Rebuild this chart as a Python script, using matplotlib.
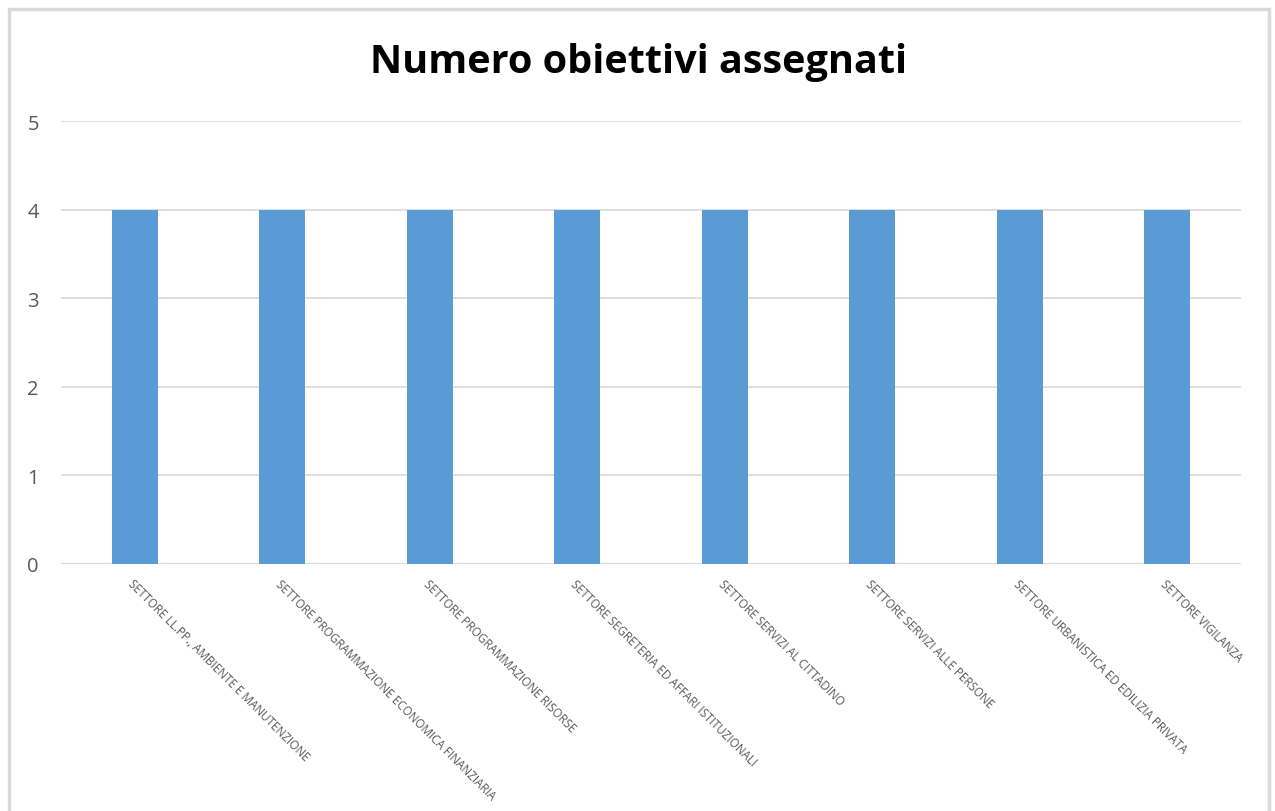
import matplotlib.pyplot as plt
from matplotlib.patches import Rectangle

settori = [
    'SETTORE LL.PP., AMBIENTE E MANUTENZIONE',
    'SETTORE PROGRAMMAZIONE ECONOMICA FINANZIARIA',
    'SETTORE PROGRAMMAZIONE RISORSE',
    'SETTORE SEGRETERIA ED AFFARI ISTITUZIONALI',
    'SETTORE SERVIZI AL CITTADINO',
    'SETTORE SERVIZI ALLE PERSONE',
    'SETTORE URBANISTICA ED EDILIZIA PRIVATA',
    'SETTORE VIGILANZA',
]
obiettivi = [4, 4, 4, 4, 4, 4, 4, 4]
y_ticks = [0, 1, 2, 3, 4, 5]

W, H = 1275, 812
fig = plt.figure(figsize=(W / 100, H / 100), dpi=100)
ax = fig.add_axes([61 / W, 1 - 565 / H, (1241 - 61) / W, (565 - 122) / H])

x = list(range(len(settori)))
ax.bar(x, obiettivi, width=0.31, color='#5b9bd5', zorder=3)

ax.set_xlim(-0.5, len(settori) - 0.5)
ax.set_ylim(0, 5)
ax.set_yticks(y_ticks)
ax.yaxis.grid(True, color='#d9d9d9', linewidth=1.2, zorder=0)
ax.set_axisbelow(True)
for s in ax.spines.values():
    s.set_visible(False)
ax.axhline(0, color='#d9d9d9', linewidth=1.5, zorder=2)

ax.tick_params(axis='y', length=0, pad=16, labelsize=14.5, labelcolor='#595959')
ax.tick_params(axis='x', length=0, pad=9)
ax.set_xticks(x)
ax.set_xticklabels(settori, rotation=-45, ha='left', va='top',
                   rotation_mode='anchor', fontsize=8.4, color='#595959',
                   family='Open Sans')
for lab in ax.get_yticklabels():
    lab.set_family('Open Sans')

fig.text(0.501, 1 - 63 / H, 'Numero obiettivi assegnati', ha='center', va='center',
         fontsize=28.5, fontweight='bold', family='Open Sans', color='black')

# bordo grigio del riquadro
fig.patches.append(Rectangle((9 / W, -0.05), (1269 - 9) / W, 1.05 - 10 / H,
                             transform=fig.transFigure, fill=False,
                             edgecolor='#d9d9d9', linewidth=2.5, clip_on=False))

fig.savefig('out.png', dpi=100, facecolor='white')
